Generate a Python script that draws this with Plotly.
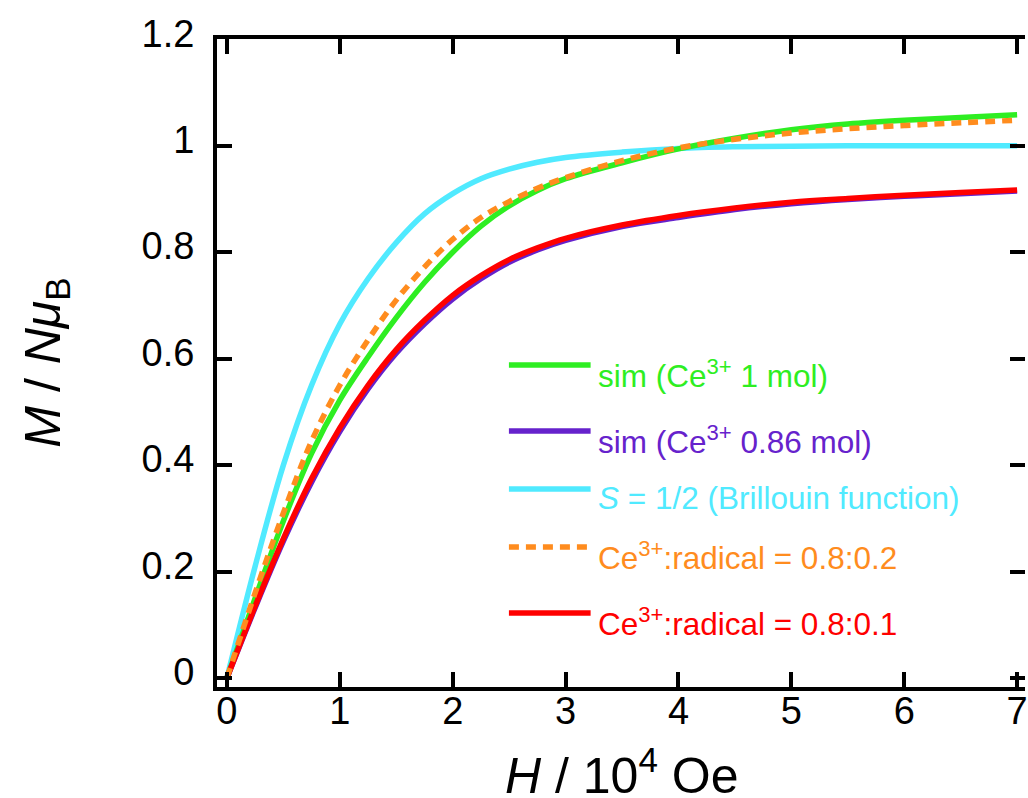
import plotly.graph_objects as go

# Magnetic field (10^4 Oe)
H = [0, 0.25, 0.5, 0.75, 1.0, 1.25, 1.5, 1.75, 2.0, 2.25, 2.5, 2.75,
     3.0, 3.5, 4.0, 4.5, 5.0, 5.5, 6.0, 6.5, 7.0]

# Magnetization (N muB)
m_sim_1mol = [0, 0.150, 0.295, 0.422, 0.522, 0.603, 0.677, 0.743, 0.800, 0.849,
              0.887, 0.916, 0.938, 0.968, 0.994, 1.014, 1.030, 1.041, 1.048, 1.053, 1.058]
m_sim_086mol = [0, 0.132, 0.257, 0.368, 0.463, 0.543, 0.610, 0.665, 0.712, 0.750,
                0.781, 0.804, 0.822, 0.848, 0.865, 0.880, 0.891, 0.899, 0.905, 0.910, 0.915]
m_brillouin = [0, 0.210, 0.400, 0.550, 0.665, 0.750, 0.818, 0.872, 0.910, 0.938,
               0.956, 0.969, 0.978, 0.988, 0.995, 0.998, 0.999, 1.0, 1.0, 1.0, 1.0]
m_ratio_02 = [0, 0.160, 0.310, 0.445, 0.550, 0.635, 0.710, 0.772, 0.824, 0.865,
              0.895, 0.920, 0.940, 0.972, 0.996, 1.012, 1.024, 1.032, 1.038, 1.043, 1.048]
m_ratio_01 = [0, 0.135, 0.262, 0.375, 0.470, 0.550, 0.617, 0.672, 0.719, 0.756,
              0.786, 0.808, 0.826, 0.851, 0.869, 0.883, 0.894, 0.901, 0.907, 0.912, 0.917]

x_ticks = [0, 1, 2, 3, 4, 5, 6, 7]
y_ticks = [0, 0.2, 0.4, 0.6, 0.8, 1.0, 1.2]
y_tick_text = ["0", "0.2", "0.4", "0.6", "0.8", "1", "1.2"]

GREEN = "#2EEE22"
PURPLE = "#6622CC"
CYAN = "#50EAFF"
ORANGE = "#FF8C1E"
RED = "#FF0000"

FONT = "Liberation Sans, Arial, sans-serif"
W, HT = 1028, 798
ML, MR, MT, MB = 217, 0, 39, 111
DASH = "10px,7px"

series = [
    (m_brillouin, CYAN, "solid", "<i>S</i> = 1/2 (Brillouin function)"),
    (m_sim_1mol, GREEN, "solid", "sim (Ce<sup>3+</sup> 1 mol)"),
    (m_sim_086mol, PURPLE, "solid", "sim (Ce<sup>3+</sup> 0.86 mol)"),
    (m_ratio_01, RED, "solid", "Ce<sup>3+</sup>:radical = 0.8:0.1"),
    (m_ratio_02, ORANGE, DASH, "Ce<sup>3+</sup>:radical = 0.8:0.2"),
]

fig = go.Figure()
for ys, col, dash, name in series:
    fig.add_trace(go.Scatter(x=H, y=ys, mode="lines", name=name,
                             line=dict(color=col, width=5.5, dash=dash, shape="spline", smoothing=1.0),
                             showlegend=False))

# helper trace so the right-hand tick axis is drawn
fig.add_trace(go.Scatter(x=[None], y=[None], yaxis="y2", showlegend=False, hoverinfo="skip"))


def px_x(p):
    return (p - ML) / (W - ML - MR)


def px_y(p):
    return (HT - MB - p) / (HT - MB - MT)


# legend drawn by hand: (line y in px, colour, dash, label)
legend_rows = [
    (365, GREEN, None, "sim (Ce<sup>3+</sup> 1 mol)"),
    (431, PURPLE, None, "sim (Ce<sup>3+</sup> 0.86 mol)"),
    (489, CYAN, None, "<i>S</i> = 1/2 (Brillouin function)"),
    (547, ORANGE, DASH, "Ce<sup>3+</sup>:radical = 0.8:0.2"),
    (613, RED, None, "Ce<sup>3+</sup>:radical = 0.8:0.1"),
]
shapes = []
annotations = []
for ly, col, dash, label in legend_rows:
    line = dict(color=col, width=5.5)
    if dash:
        line["dash"] = dash
    shapes.append(dict(type="line", xref="paper", yref="paper",
                       x0=px_x(510), x1=px_x(592), y0=px_y(ly), y1=px_y(ly), line=line))
    annotations.append(dict(xref="paper", yref="paper", x=px_x(597), y=px_y(ly + 9),
                            xanchor="left", yanchor="middle", showarrow=False,
                            text=label, font=dict(family=FONT, size=31.5, color=col)))

# axis titles
annotations.append(dict(xref="paper", yref="paper", x=0.5, y=px_y(772),
                        xanchor="center", yanchor="middle", showarrow=False,
                        text="<i>H</i> / 10<sup>4</sup> Oe",
                        font=dict(family=FONT, size=50, color="black")))
annotations.append(dict(xref="paper", yref="paper", x=px_x(45), y=0.5,
                        xanchor="center", yanchor="middle", showarrow=False, textangle=-90,
                        text="<i>M</i> / <i>N\u03bc</i><sub>B</sub>",
                        font=dict(family=FONT, size=50, color="black")))

axis_common = dict(showgrid=False, zeroline=False, ticks="inside", ticklen=15, tickwidth=4,
                   tickcolor="black", linecolor="black", linewidth=4, ticklabeloverflow="allow",
                   tickfont=dict(family=FONT, size=38, color="black"))

fig.update_layout(
    width=W, height=HT,
    margin=dict(l=ML, r=MR, t=MT, b=MB),
    plot_bgcolor="white", paper_bgcolor="white",
    xaxis=dict(range=[-0.088, 7.07], tickvals=x_ticks, showline=True, mirror="ticks",
               ticklabelstandoff=-13, **axis_common),
    yaxis=dict(range=[-0.0169, 1.2005], tickvals=y_ticks, ticktext=y_tick_text, showline=True,
               mirror=False, ticklabelstandoff=11, ticklabelshift=-6, **axis_common),
    yaxis2=dict(range=[-0.0169, 1.2005], overlaying="y", side="right", anchor="x",
                tickvals=y_ticks, showticklabels=False, showline=False, showgrid=False,
                zeroline=False, ticks="inside", ticklen=15, tickwidth=4, tickcolor="black"),
    shapes=shapes,
    annotations=annotations,
    showlegend=False,
)

fig.write_html("out.html")
